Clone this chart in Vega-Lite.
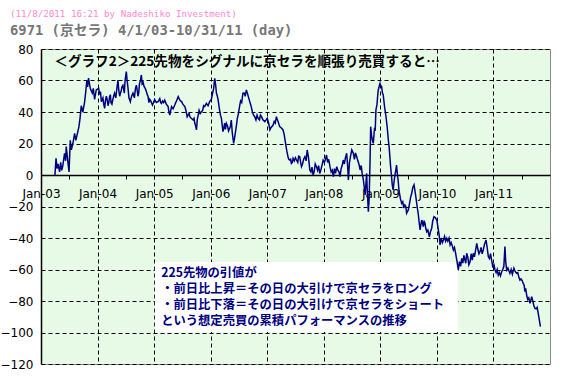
{
  "$schema": "https://vega.github.io/schema/vega-lite/v6.json",
  "width": 509,
  "height": 315,
  "autosize": "none",
  "padding": {"left": 41, "top": 49, "right": 28, "bottom": 14},
  "background": "#ffffff",
  "config": {
    "view": {"fill": "#e6fae6", "stroke": "#888888", "strokeWidth": 1},
    "font": "DejaVu Sans"
  },
  "title": {
    "text": "(11/8/2011 16:21 by Nadeshiko Investment)",
    "subtitle": "6971 (京セラ) 4/1/03-10/31/11 (day)",
    "anchor": "start",
    "frame": "bounds",
    "font": "DejaVu Sans Mono, Noto Sans CJK JP",
    "fontSize": 9.2,
    "fontWeight": "normal",
    "color": "#ff88cc",
    "subtitleFont": "DejaVu Sans Mono, Noto Sans CJK JP",
    "subtitleFontSize": 13.8,
    "subtitleFontWeight": "bold",
    "subtitleColor": "#777777",
    "subtitlePadding": 5,
    "offset": 5,
    "dx": 10
  },
  "datasets": {
    "series": [
      {"x": "2003-04-01", "y": 0}, {"x": "2003-04-08", "y": 10.6}, {"x": "2003-04-15", "y": 4}, {"x": "2003-04-21", "y": 7},
      {"x": "2003-05-01", "y": 2}, {"x": "2003-05-08", "y": 8}, {"x": "2003-05-15", "y": 3}, {"x": "2003-05-22", "y": 6},
      {"x": "2003-06-02", "y": 13.8}, {"x": "2003-06-09", "y": 9}, {"x": "2003-06-13", "y": 18}, {"x": "2003-06-24", "y": 8},
      {"x": "2003-07-01", "y": 2}, {"x": "2003-07-09", "y": 22}, {"x": "2003-07-16", "y": 16}, {"x": "2003-07-26", "y": 20},
      {"x": "2003-08-06", "y": 26.5}, {"x": "2003-08-14", "y": 22}, {"x": "2003-08-21", "y": 25}, {"x": "2003-09-03", "y": 30.7},
      {"x": "2003-09-10", "y": 36}, {"x": "2003-09-18", "y": 44}, {"x": "2003-09-28", "y": 40}, {"x": "2003-10-09", "y": 46},
      {"x": "2003-10-16", "y": 52}, {"x": "2003-10-24", "y": 60}, {"x": "2003-10-29", "y": 56}, {"x": "2003-11-04", "y": 61.5},
      {"x": "2003-11-15", "y": 55}, {"x": "2003-11-28", "y": 52}, {"x": "2003-12-05", "y": 55}, {"x": "2003-12-13", "y": 48},
      {"x": "2003-12-24", "y": 54}, {"x": "2004-01-08", "y": 55}, {"x": "2004-01-15", "y": 51}, {"x": "2004-01-26", "y": 46.6},
      {"x": "2004-02-05", "y": 49}, {"x": "2004-02-16", "y": 42.3}, {"x": "2004-02-27", "y": 50}, {"x": "2004-03-09", "y": 44},
      {"x": "2004-03-19", "y": 49.7}, {"x": "2004-03-28", "y": 46}, {"x": "2004-04-09", "y": 48}, {"x": "2004-04-20", "y": 51.9},
      {"x": "2004-04-28", "y": 49}, {"x": "2004-05-12", "y": 60.3}, {"x": "2004-05-23", "y": 50}, {"x": "2004-06-01", "y": 53},
      {"x": "2004-06-13", "y": 57}, {"x": "2004-06-22", "y": 52}, {"x": "2004-07-05", "y": 65.6}, {"x": "2004-07-15", "y": 56},
      {"x": "2004-07-31", "y": 46.5}, {"x": "2004-08-08", "y": 50}, {"x": "2004-08-17", "y": 52}, {"x": "2004-09-08", "y": 57},
      {"x": "2004-09-18", "y": 50}, {"x": "2004-09-28", "y": 58}, {"x": "2004-10-10", "y": 63.5}, {"x": "2004-10-21", "y": 59},
      {"x": "2004-11-12", "y": 52.9}, {"x": "2004-11-22", "y": 50}, {"x": "2004-12-03", "y": 48}, {"x": "2004-12-21", "y": 44.4},
      {"x": "2005-01-04", "y": 47.9}, {"x": "2005-01-26", "y": 46.5}, {"x": "2005-02-06", "y": 48.5}, {"x": "2005-02-17", "y": 45.5},
      {"x": "2005-03-10", "y": 47.5}, {"x": "2005-04-01", "y": 43.4}, {"x": "2005-04-12", "y": 38}, {"x": "2005-04-23", "y": 43.4},
      {"x": "2005-05-14", "y": 44.4}, {"x": "2005-05-25", "y": 47}, {"x": "2005-06-05", "y": 49.7}, {"x": "2005-06-27", "y": 46.6},
      {"x": "2005-07-18", "y": 43.4}, {"x": "2005-08-02", "y": 37}, {"x": "2005-08-10", "y": 38.5}, {"x": "2005-08-19", "y": 37},
      {"x": "2005-09-09", "y": 35}, {"x": "2005-09-20", "y": 33}, {"x": "2005-10-01", "y": 28.6}, {"x": "2005-10-18", "y": 41},
      {"x": "2005-11-02", "y": 40.2}, {"x": "2005-11-23", "y": 43.4}, {"x": "2005-12-04", "y": 45.5}, {"x": "2005-12-25", "y": 46.6},
      {"x": "2006-01-13", "y": 51.9}, {"x": "2006-01-27", "y": 61.4}, {"x": "2006-02-07", "y": 51.9}, {"x": "2006-02-18", "y": 47.6},
      {"x": "2006-03-11", "y": 36}, {"x": "2006-03-21", "y": 27.5}, {"x": "2006-04-01", "y": 33}, {"x": "2006-04-12", "y": 32.8},
      {"x": "2006-05-03", "y": 29.6}, {"x": "2006-05-14", "y": 34.9}, {"x": "2006-05-29", "y": 20.1}, {"x": "2006-06-15", "y": 30.7},
      {"x": "2006-07-06", "y": 43.4}, {"x": "2006-07-28", "y": 51.9}, {"x": "2006-08-19", "y": 54}, {"x": "2006-09-10", "y": 46.6},
      {"x": "2006-09-27", "y": 40.2}, {"x": "2006-10-12", "y": 37}, {"x": "2006-11-03", "y": 36}, {"x": "2006-11-25", "y": 37},
      {"x": "2006-12-16", "y": 33.9}, {"x": "2007-01-01", "y": 36}, {"x": "2007-01-18", "y": 28.6}, {"x": "2007-02-08", "y": 31.7},
      {"x": "2007-03-01", "y": 37}, {"x": "2007-03-22", "y": 30.7}, {"x": "2007-04-13", "y": 28.6}, {"x": "2007-05-01", "y": 19},
      {"x": "2007-05-15", "y": 11.6}, {"x": "2007-05-26", "y": 9.5}, {"x": "2007-06-06", "y": 7.4}, {"x": "2007-06-17", "y": 10.6},
      {"x": "2007-07-09", "y": 9.5}, {"x": "2007-07-30", "y": 11.6}, {"x": "2007-08-10", "y": 5.3}, {"x": "2007-09-01", "y": 11.6},
      {"x": "2007-09-16", "y": 15.9}, {"x": "2007-10-03", "y": 3.2}, {"x": "2007-10-24", "y": 0}, {"x": "2007-11-15", "y": 5.3},
      {"x": "2007-12-06", "y": 1}, {"x": "2007-12-28", "y": 9.5}, {"x": "2008-01-19", "y": 12.7}, {"x": "2008-02-10", "y": 5.3},
      {"x": "2008-03-03", "y": -1}, {"x": "2008-03-25", "y": 5.3}, {"x": "2008-04-15", "y": -1}, {"x": "2008-05-06", "y": 9.5},
      {"x": "2008-05-28", "y": 13.8}, {"x": "2008-06-08", "y": -3.2}, {"x": "2008-06-30", "y": 15.9}, {"x": "2008-07-10", "y": 13.8},
      {"x": "2008-08-01", "y": 11.6}, {"x": "2008-08-23", "y": 3.2}, {"x": "2008-09-13", "y": -3.2}, {"x": "2008-09-24", "y": -12.7},
      {"x": "2008-10-04", "y": 1}, {"x": "2008-10-15", "y": -23.3}, {"x": "2008-10-26", "y": 9.5}, {"x": "2008-10-30", "y": 30.7},
      {"x": "2008-11-16", "y": 20.1}, {"x": "2008-12-03", "y": 41.3}, {"x": "2008-12-18", "y": 54}, {"x": "2008-12-29", "y": 58.2},
      {"x": "2009-01-09", "y": 56}, {"x": "2009-01-19", "y": 50.8}, {"x": "2009-02-06", "y": 37}, {"x": "2009-02-21", "y": 22.2},
      {"x": "2009-03-03", "y": 11.6}, {"x": "2009-03-14", "y": -1}, {"x": "2009-03-24", "y": -9.5}, {"x": "2009-04-05", "y": 0},
      {"x": "2009-04-15", "y": 6.3}, {"x": "2009-04-25", "y": -3}, {"x": "2009-05-18", "y": -18}, {"x": "2009-06-08", "y": -19},
      {"x": "2009-06-19", "y": -24.3}, {"x": "2009-06-30", "y": -22.2}, {"x": "2009-07-22", "y": -11.6}, {"x": "2009-08-06", "y": -6.3},
      {"x": "2009-08-19", "y": -14.8}, {"x": "2009-09-03", "y": -25.4}, {"x": "2009-09-14", "y": -34.9}, {"x": "2009-09-25", "y": -28.6},
      {"x": "2009-10-05", "y": -32.8}, {"x": "2009-10-16", "y": -30.7}, {"x": "2009-10-27", "y": -36}, {"x": "2009-11-13", "y": -39.2},
      {"x": "2009-11-28", "y": -33.9}, {"x": "2009-12-13", "y": -26.5}, {"x": "2009-12-31", "y": -28.6}, {"x": "2010-01-10", "y": -34.9},
      {"x": "2010-01-21", "y": -44.4}, {"x": "2010-02-12", "y": -41.3}, {"x": "2010-03-05", "y": -40.2}, {"x": "2010-03-27", "y": -44.4},
      {"x": "2010-04-17", "y": -47.6}, {"x": "2010-05-09", "y": -54}, {"x": "2010-05-19", "y": -60.3}, {"x": "2010-06-10", "y": -52.9},
      {"x": "2010-07-01", "y": -54}, {"x": "2010-07-12", "y": -49.7}, {"x": "2010-08-03", "y": -55}, {"x": "2010-08-24", "y": -49.7},
      {"x": "2010-09-15", "y": -43.4}, {"x": "2010-10-06", "y": -48.7}, {"x": "2010-10-27", "y": -47.6}, {"x": "2010-11-14", "y": -41.3},
      {"x": "2010-11-29", "y": -51.9}, {"x": "2010-12-20", "y": -54}, {"x": "2011-01-11", "y": -60.3}, {"x": "2011-02-01", "y": -63.5},
      {"x": "2011-02-23", "y": -61.4}, {"x": "2011-03-16", "y": -45.5}, {"x": "2011-03-27", "y": -60.3}, {"x": "2011-04-17", "y": -62.4},
      {"x": "2011-05-13", "y": -59.2}, {"x": "2011-05-30", "y": -62.4}, {"x": "2011-06-21", "y": -66.7}, {"x": "2011-07-12", "y": -68.8},
      {"x": "2011-07-23", "y": -74}, {"x": "2011-08-03", "y": -76.2}, {"x": "2011-08-25", "y": -81.5}, {"x": "2011-09-05", "y": -77.3},
      {"x": "2011-09-26", "y": -84.7}, {"x": "2011-10-17", "y": -87.8}, {"x": "2011-10-31", "y": -96.3},
      {"x": "2004-01-20", "y": 53}, {"x": "2004-02-10", "y": 45}, {"x": "2004-02-21", "y": 47}, {"x": "2004-03-03", "y": 48},
      {"x": "2004-03-14", "y": 46}, {"x": "2004-03-24", "y": 51}, {"x": "2004-04-03", "y": 45}, {"x": "2004-04-14", "y": 50},
      {"x": "2004-05-05", "y": 55}, {"x": "2004-05-17", "y": 54}, {"x": "2004-05-28", "y": 52}, {"x": "2004-06-07", "y": 56},
      {"x": "2004-06-17", "y": 55}, {"x": "2004-06-27", "y": 60}, {"x": "2004-07-10", "y": 60}, {"x": "2004-07-22", "y": 49},
      {"x": "2004-08-03", "y": 48}, {"x": "2004-08-26", "y": 49}, {"x": "2004-09-02", "y": 55}, {"x": "2004-09-13", "y": 54},
      {"x": "2004-09-23", "y": 52}, {"x": "2004-10-04", "y": 60}, {"x": "2004-10-15", "y": 58}, {"x": "2004-10-28", "y": 56},
      {"x": "2004-11-04", "y": 55}, {"x": "2004-11-17", "y": 51}, {"x": "2004-11-28", "y": 46}, {"x": "2004-12-10", "y": 47},
      {"x": "2004-12-28", "y": 46}, {"x": "2005-01-15", "y": 46}, {"x": "2005-02-12", "y": 46}, {"x": "2005-02-24", "y": 47},
      {"x": "2005-03-03", "y": 46}, {"x": "2005-03-20", "y": 45}, {"x": "2005-04-06", "y": 40}, {"x": "2005-04-18", "y": 41},
      {"x": "2005-05-03", "y": 42}, {"x": "2005-05-20", "y": 46}, {"x": "2005-06-13", "y": 48}, {"x": "2005-06-20", "y": 47},
      {"x": "2005-07-05", "y": 45}, {"x": "2005-07-25", "y": 41}, {"x": "2005-08-15", "y": 39}, {"x": "2005-08-28", "y": 36},
      {"x": "2005-09-15", "y": 36}, {"x": "2005-09-26", "y": 31}, {"x": "2005-10-06", "y": 35}, {"x": "2005-10-12", "y": 38},
      {"x": "2005-10-25", "y": 39}, {"x": "2005-11-10", "y": 41}, {"x": "2005-11-16", "y": 44}, {"x": "2005-12-15", "y": 44},
      {"x": "2006-01-05", "y": 48}, {"x": "2006-01-20", "y": 55}, {"x": "2006-02-02", "y": 57}, {"x": "2006-02-13", "y": 50},
      {"x": "2006-02-26", "y": 42}, {"x": "2006-03-05", "y": 38}, {"x": "2006-03-27", "y": 30}, {"x": "2006-04-06", "y": 29},
      {"x": "2006-04-20", "y": 31}, {"x": "2006-04-26", "y": 28}, {"x": "2006-05-08", "y": 31}, {"x": "2006-05-20", "y": 27},
      {"x": "2006-06-05", "y": 24}, {"x": "2006-06-22", "y": 36}, {"x": "2006-06-29", "y": 39}, {"x": "2006-07-13", "y": 47},
      {"x": "2006-07-20", "y": 46}, {"x": "2006-08-05", "y": 52}, {"x": "2006-08-12", "y": 50}, {"x": "2006-08-26", "y": 52},
      {"x": "2006-09-03", "y": 49}, {"x": "2006-09-18", "y": 44}, {"x": "2006-10-05", "y": 38}, {"x": "2006-10-20", "y": 35},
      {"x": "2006-10-27", "y": 38}, {"x": "2006-11-12", "y": 35}, {"x": "2006-11-18", "y": 38}, {"x": "2006-12-04", "y": 35},
      {"x": "2006-12-25", "y": 35}, {"x": "2007-01-10", "y": 33}, {"x": "2007-01-25", "y": 30}, {"x": "2007-02-15", "y": 34},
      {"x": "2007-02-22", "y": 33}, {"x": "2007-03-08", "y": 35}, {"x": "2007-03-15", "y": 33}, {"x": "2007-04-01", "y": 30},
      {"x": "2007-04-20", "y": 26}, {"x": "2007-05-08", "y": 15}, {"x": "2007-05-20", "y": 10}, {"x": "2007-06-01", "y": 10},
      {"x": "2007-06-12", "y": 8}, {"x": "2007-06-25", "y": 9}, {"x": "2007-07-02", "y": 11}, {"x": "2007-07-17", "y": 8},
      {"x": "2007-07-23", "y": 12}, {"x": "2007-08-03", "y": 9}, {"x": "2007-08-17", "y": 7}, {"x": "2007-08-24", "y": 10},
      {"x": "2007-09-09", "y": 9}, {"x": "2007-09-23", "y": 12}, {"x": "2007-09-28", "y": 8}, {"x": "2007-10-10", "y": 2},
      {"x": "2007-10-17", "y": 5}, {"x": "2007-10-31", "y": 2}, {"x": "2007-11-07", "y": 7}, {"x": "2007-11-22", "y": 3},
      {"x": "2007-11-29", "y": 6}, {"x": "2007-12-13", "y": 3}, {"x": "2007-12-20", "y": 6}, {"x": "2008-01-05", "y": 8},
      {"x": "2008-01-12", "y": 10}, {"x": "2008-01-26", "y": 8}, {"x": "2008-02-02", "y": 10}, {"x": "2008-02-18", "y": 2},
      {"x": "2008-02-25", "y": 3}, {"x": "2008-03-10", "y": 4}, {"x": "2008-03-17", "y": 1}, {"x": "2008-04-01", "y": 3},
      {"x": "2008-04-08", "y": 2}, {"x": "2008-04-22", "y": 4}, {"x": "2008-04-29", "y": 6}, {"x": "2008-05-13", "y": 7},
      {"x": "2008-05-20", "y": 11}, {"x": "2008-06-03", "y": 6}, {"x": "2008-06-15", "y": 8}, {"x": "2008-06-22", "y": 12},
      {"x": "2008-07-17", "y": 10}, {"x": "2008-07-24", "y": 14}, {"x": "2008-08-08", "y": 9}, {"x": "2008-08-15", "y": 7},
      {"x": "2008-08-30", "y": 6}, {"x": "2008-09-05", "y": 1}, {"x": "2008-10-08", "y": -10}, {"x": "2008-10-20", "y": -15},
      {"x": "2008-11-05", "y": 25}, {"x": "2008-11-10", "y": 22}, {"x": "2008-11-24", "y": 30}, {"x": "2008-11-28", "y": 28},
      {"x": "2008-12-10", "y": 45}, {"x": "2008-12-14", "y": 50}, {"x": "2009-01-02", "y": 57}, {"x": "2009-01-14", "y": 52},
      {"x": "2009-01-28", "y": 43}, {"x": "2009-02-14", "y": 30}, {"x": "2009-02-26", "y": 18}, {"x": "2009-03-08", "y": 5},
      {"x": "2009-03-18", "y": -6}, {"x": "2009-03-30", "y": -4}, {"x": "2009-04-10", "y": 3}, {"x": "2009-04-20", "y": 1},
      {"x": "2009-05-01", "y": -10}, {"x": "2009-05-10", "y": -15}, {"x": "2009-05-25", "y": -17}, {"x": "2009-06-01", "y": -21},
      {"x": "2009-06-14", "y": -20}, {"x": "2009-07-08", "y": -18}, {"x": "2009-07-15", "y": -14}, {"x": "2009-07-29", "y": -8},
      {"x": "2009-08-12", "y": -10}, {"x": "2009-08-26", "y": -20}, {"x": "2009-09-08", "y": -30}, {"x": "2009-09-20", "y": -31},
      {"x": "2009-10-10", "y": -29}, {"x": "2009-10-21", "y": -34}, {"x": "2009-11-03", "y": -35}, {"x": "2009-11-20", "y": -36},
      {"x": "2009-12-05", "y": -29}, {"x": "2009-12-21", "y": -27}, {"x": "2010-01-04", "y": -31}, {"x": "2010-01-15", "y": -38},
      {"x": "2010-01-28", "y": -40}, {"x": "2010-02-05", "y": -43}, {"x": "2010-02-19", "y": -39}, {"x": "2010-02-26", "y": -42},
      {"x": "2010-03-12", "y": -42}, {"x": "2010-03-20", "y": -40}, {"x": "2010-04-03", "y": -43}, {"x": "2010-04-10", "y": -45},
      {"x": "2010-04-24", "y": -46}, {"x": "2010-05-02", "y": -50}, {"x": "2010-05-26", "y": -55}, {"x": "2010-06-03", "y": -58},
      {"x": "2010-06-17", "y": -56}, {"x": "2010-06-24", "y": -51}, {"x": "2010-07-06", "y": -56}, {"x": "2010-07-19", "y": -52},
      {"x": "2010-07-26", "y": -57}, {"x": "2010-08-10", "y": -50}, {"x": "2010-08-17", "y": -54}, {"x": "2010-08-31", "y": -52},
      {"x": "2010-09-07", "y": -48}, {"x": "2010-09-22", "y": -47}, {"x": "2010-09-29", "y": -50}, {"x": "2010-10-13", "y": -46},
      {"x": "2010-10-20", "y": -50}, {"x": "2010-11-04", "y": -44}, {"x": "2010-11-21", "y": -46}, {"x": "2010-12-06", "y": -53},
      {"x": "2010-12-13", "y": -50}, {"x": "2010-12-27", "y": -58}, {"x": "2011-01-04", "y": -57}, {"x": "2011-01-18", "y": -62},
      {"x": "2011-01-25", "y": -60}, {"x": "2011-02-08", "y": -62}, {"x": "2011-02-15", "y": -64}, {"x": "2011-03-02", "y": -60},
      {"x": "2011-03-09", "y": -58}, {"x": "2011-03-21", "y": -55}, {"x": "2011-04-04", "y": -59}, {"x": "2011-04-11", "y": -61},
      {"x": "2011-04-25", "y": -60}, {"x": "2011-05-03", "y": -63}, {"x": "2011-05-20", "y": -61}, {"x": "2011-06-07", "y": -62},
      {"x": "2011-06-14", "y": -65}, {"x": "2011-06-28", "y": -66}, {"x": "2011-07-05", "y": -67}, {"x": "2011-07-18", "y": -70},
      {"x": "2011-07-28", "y": -72}, {"x": "2011-08-10", "y": -79}, {"x": "2011-08-17", "y": -78}, {"x": "2011-09-12", "y": -80},
      {"x": "2011-09-19", "y": -83}, {"x": "2011-10-03", "y": -85}, {"x": "2011-10-10", "y": -84}, {"x": "2011-10-24", "y": -92}
    ],
    "box": [
      {"x": "2005-01-05", "x2": "2010-05-17", "y": -55.2, "y2": -99.7}
    ],
    "notes": [
      {"x": "2005-02-15", "y": -62.2, "t": "225先物の引値が"},
      {"x": "2005-02-15", "y": -72.6, "t": "・前日比上昇＝その日の大引けで京セラをロング"},
      {"x": "2005-02-15", "y": -82.5, "t": "・前日比下落＝その日の大引けで京セラをショート"},
      {"x": "2005-02-15", "y": -92.6, "t": "という想定売買の累積パフォーマンスの推移"}
    ],
    "head": [
      {"x": "2003-03-28", "y": 71.7, "t": "＜グラフ2＞225先物をシグナルに京セラを順張り売買すると…"}
    ]
  },
  "encoding": {
    "x": {"field": "x", "type": "temporal",
      "scale": {"type": "utc", "domain": [{"year": 2003, "month": 1, "date": 1, "utc": true}, {"year": 2012, "month": 1, "date": 1, "utc": true}]},
      "axis": {"orient": "bottom", "offset": -189, "title": null,
        "domain": true, "domainColor": "#000000", "domainWidth": 1.5,
        "grid": true, "gridColor": "#000000", "gridDash": [4, 3], "gridWidth": 1,
        "gridOpacity": {"condition": {"test": "utcmonth(datum.value) == 0 && utcyear(datum.value) > 2003", "value": 1}, "value": 0},
        "values": [
          {"year": 2003, "month": 1, "date": 1, "utc": true}, {"year": 2003, "month": 7, "date": 1, "utc": true},
          {"year": 2004, "month": 1, "date": 1, "utc": true}, {"year": 2004, "month": 7, "date": 1, "utc": true},
          {"year": 2005, "month": 1, "date": 1, "utc": true}, {"year": 2005, "month": 7, "date": 1, "utc": true},
          {"year": 2006, "month": 1, "date": 1, "utc": true}, {"year": 2006, "month": 7, "date": 1, "utc": true},
          {"year": 2007, "month": 1, "date": 1, "utc": true}, {"year": 2007, "month": 7, "date": 1, "utc": true},
          {"year": 2008, "month": 1, "date": 1, "utc": true}, {"year": 2008, "month": 7, "date": 1, "utc": true},
          {"year": 2009, "month": 1, "date": 1, "utc": true}, {"year": 2009, "month": 7, "date": 1, "utc": true},
          {"year": 2010, "month": 1, "date": 1, "utc": true}, {"year": 2010, "month": 7, "date": 1, "utc": true},
          {"year": 2011, "month": 1, "date": 1, "utc": true}, {"year": 2011, "month": 7, "date": 1, "utc": true}
        ],
        "labelExpr": "utcmonth(datum.value) == 0 ? utcFormat(datum.value, '%b-%y') : ''",
        "labelFont": "DejaVu Sans", "labelFontSize": 12, "labelColor": "#000000", "labelPadding": 9,
        "labelFlush": false, "labelOverlap": false,
        "tickSize": 4, "tickColor": "#000000", "tickWidth": 1}},
    "y": {"field": "y", "type": "quantitative",
      "scale": {"domain": [-120, 80], "nice": false, "zero": false},
      "axis": {"values": [-120, -100, -80, -60, -40, -20, 0, 20, 40, 60, 80], "title": null, "grid": true,
        "gridColor": "#000000", "gridDash": [4, 3], "gridWidth": 1, "gridOpacity": 1,
        "ticks": false, "domainColor": "#000000", "domainWidth": 1.5, "labelOverlap": false,
        "labelFont": "DejaVu Sans", "labelFontSize": 12, "labelColor": "#000000", "labelPadding": 8}}
  },
  "layer": [
    {
      "data": {"name": "box"},
      "mark": {"type": "rect", "fill": "#ffffff", "stroke": null},
      "encoding": {
        "x2": {"field": "x2"},
        "y2": {"field": "y2"}
      }
    },
    {
      "data": {"name": "series"},
      "mark": {"type": "line", "color": "#000080", "strokeWidth": 1.5, "interpolate": "linear"}
    },
    {
      "data": {"name": "notes"},
      "mark": {"type": "text", "align": "left", "baseline": "middle", "font": "Noto Sans CJK JP", "fontSize": 12.3, "fontWeight": "bold", "color": "#000080"},
      "encoding": {"text": {"field": "t"}}
    },
    {
      "data": {"name": "head"},
      "mark": {"type": "text", "align": "left", "baseline": "middle", "font": "Noto Sans CJK JP", "fontSize": 13.6, "fontWeight": "bold", "color": "#000000"},
      "encoding": {"text": {"field": "t"}}
    }
  ]
}
